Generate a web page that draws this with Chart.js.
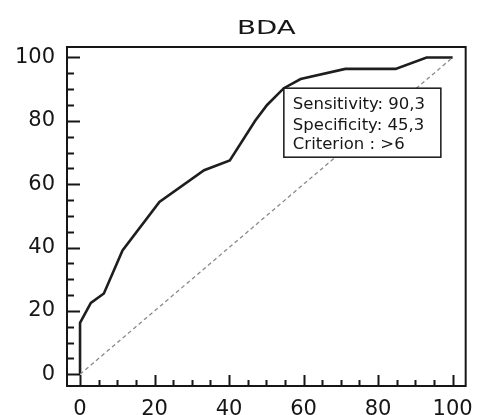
<!DOCTYPE html>
<html>
<head>
<meta charset="utf-8">
<script src="https://cdn.jsdelivr.net/npm/chart.js@4.4.1/dist/chart.umd.min.js"></script>
<style>
  html, body { margin: 0; padding: 0; background: #fff; }
  #wrap { width: 484px; height: 415px; position: relative; }
</style>
</head>
<body>
<div id="wrap"><canvas id="roc"></canvas></div>
<script>
const chartTitle = "BDA";

// ROC curve: 100-Specificity on x, Sensitivity on y
const fprValues = [0, 0, 2.9, 6.4, 11.4, 21.3, 33.3, 40.2, 47, 50.2, 54.7, 59.2, 71.2, 84.7, 93, 100];
const tprValues = [0, 16.2, 22.5, 25.5, 39.1, 54.4, 64.4, 67.5, 80, 85, 90.3, 93.2, 96.4, 96.4, 100, 100];

// chance diagonal
const refX = [0, 100];
const refY = [0, 100];

const tickLabels = [0, 20, 40, 60, 80, 100];
const minorTicks = [0, 5, 10, 15, 20, 25, 30, 35, 40, 45, 50, 55, 60, 65, 70, 75, 80, 85, 90, 95, 100];

// best cut-off box
const sensitivity = 90.3;
const specificity = 45.3;
const criterion = ">6";

const INK = "#161616";
const FONT = "'DejaVu Sans', Verdana, sans-serif";

const toXY = (xs, ys) => xs.map((x, i) => ({ x: x, y: ys[i] }));
const fmt = (v) => String(v).replace(".", ",");

// frame, inside tick marks, title and the criterion box
const rocDecor = {
  id: "rocDecor",
  afterDatasetsDraw(chart) {
    const { ctx, chartArea: a, scales } = chart;
    const sx = scales.x, sy = scales.y;
    ctx.save();

    // inside ticks
    ctx.strokeStyle = INK;
    ctx.lineWidth = 2;
    ctx.beginPath();
    minorTicks.forEach((v) => {
      const major = tickLabels.includes(v);
      const py = Math.round(sy.getPixelForValue(v)) + 0.5;
      ctx.moveTo(a.left, py);
      ctx.lineTo(a.left + (major ? 13 : 7), py);
      const px = Math.round(sx.getPixelForValue(v)) + 0.5;
      ctx.moveTo(px, a.bottom);
      ctx.lineTo(px, a.bottom - (major ? 11 : 6));
    });
    ctx.stroke();

    // frame
    ctx.lineWidth = 2;
    ctx.strokeRect(a.left, a.top, a.right - a.left, a.bottom - a.top);

    // criterion box, anchored at the cut-off point
    const bx = sx.getPixelForValue(100 - specificity);
    const by = sy.getPixelForValue(sensitivity);
    const bw = 157, bh = 69;
    ctx.fillStyle = "#fff";
    ctx.fillRect(bx, by, bw, bh);
    ctx.lineWidth = 1.5;
    ctx.strokeRect(bx, by, bw, bh);
    ctx.fillStyle = INK;
    ctx.font = "16.5px " + FONT;
    ctx.textBaseline = "alphabetic";
    ctx.textAlign = "left";
    ctx.fillText("Sensitivity: " + fmt(sensitivity), bx + 9, by + 21);
    ctx.fillText("Specificity: " + fmt(specificity), bx + 9, by + 41.5);
    ctx.fillText("Criterion : " + criterion, bx + 9, by + 61);

    // title centred over the plot area
    ctx.font = "19.5px " + FONT;
    ctx.textAlign = "center";
    ctx.translate((a.left + a.right) / 2, 33.5);
    ctx.scale(1.42, 1);
    ctx.fillText(chartTitle, 0, 0);

    ctx.restore();
  },
};

const axisCommon = {
  type: "linear",
  grid: { display: false, drawTicks: false },
  border: { display: false },
};

new Chart(document.getElementById("roc"), {
  type: "line",
  data: {
    datasets: [
      {
        data: toXY(refX, refY),
        borderColor: "#8a8a8a",
        borderWidth: 1.3,
        borderDash: [4, 3],
        pointRadius: 0,
        tension: 0,
      },
      {
        data: toXY(fprValues, tprValues),
        borderColor: "#1e1e1e",
        borderWidth: 2.6,
        pointRadius: 0,
        tension: 0,
      },
    ],
  },
  options: {
    responsive: true,
    maintainAspectRatio: false,
    animation: false,
    layout: { padding: { top: 47, right: 10, left: 0, bottom: 0 } },
    plugins: {
      legend: { display: false },
      tooltip: { enabled: false },
      title: { display: false },
    },
    scales: {
      x: {
        ...axisCommon,
        position: "bottom",
        min: -3.5,
        max: 103.5,
        afterBuildTicks: (s) => { s.ticks = tickLabels.map((v) => ({ value: v })); },
        afterFit: (s) => { s.height = 29; },
        ticks: {
          padding: 11,
          maxRotation: 0,
          color: INK,
          font: { family: FONT, size: 21 },
        },
      },
      y: {
        ...axisCommon,
        position: "left",
        min: -3.7,
        max: 103.3,
        afterBuildTicks: (s) => { s.ticks = tickLabels.map((v) => ({ value: v })); },
        afterFit: (s) => { s.width = 67; },
        ticks: {
          padding: 12,
          color: INK,
          font: { family: FONT, size: 21 },
        },
      },
    },
  },
  plugins: [rocDecor],
});
</script>
</body>
</html>
